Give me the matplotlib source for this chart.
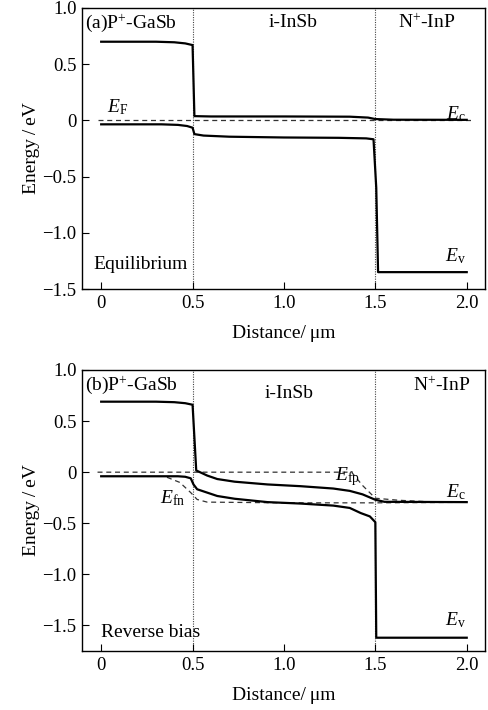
import matplotlib
matplotlib.use("Agg")
import matplotlib.pyplot as plt

plt.rcParams['font.family'] = ['Liberation Serif', 'DejaVu Serif']
plt.rcParams['mathtext.fontset'] = 'custom'
plt.rcParams['mathtext.rm'] = 'Liberation Serif'
plt.rcParams['mathtext.it'] = 'Liberation Serif:italic'
plt.rcParams['font.size'] = 13

# ---------------- Panel (a): equilibrium ----------------
a_ec_x = [0.0, 0.30, 0.40, 0.46, 0.50, 0.51, 0.60, 1.00, 1.36, 1.46, 1.50, 1.60, 2.0]
a_ec_y = [0.70, 0.70, 0.695, 0.685, 0.67, 0.038, 0.035, 0.035, 0.033, 0.025, 0.012, 0.006, 0.005]

a_ev_x = [0.0, 0.33, 0.42, 0.47, 0.50, 0.51, 0.56, 0.70, 1.00, 1.30, 1.45, 1.49, 1.505, 1.515, 2.0]
a_ev_y = [-0.035, -0.035, -0.04, -0.05, -0.065, -0.122, -0.135, -0.145, -0.152, -0.155, -0.16, -0.168, -0.60, -1.35, -1.35]

a_ef_x = [-0.02, 2.03]
a_ef_y = [0.0, 0.0]

# ---------------- Panel (b): reverse bias ----------------
b_ec_x = [0.0, 0.30, 0.40, 0.46, 0.50, 0.52, 0.58, 0.635, 0.73, 0.91, 1.09, 1.27, 1.36, 1.43, 1.50, 1.55, 2.0]
b_ec_y = [0.69, 0.69, 0.685, 0.675, 0.66, 0.017, -0.033, -0.067, -0.093, -0.12, -0.137, -0.16, -0.183, -0.217, -0.27, -0.29, -0.293]

b_ev_x = [0.0, 0.42, 0.46, 0.49, 0.505, 0.525, 0.58, 0.635, 0.73, 0.91, 1.09, 1.27, 1.36, 1.42, 1.47, 1.495, 1.50, 1.505, 2.0]
b_ev_y = [-0.04, -0.04, -0.045, -0.06, -0.12, -0.167, -0.20, -0.233, -0.26, -0.293, -0.307, -0.327, -0.35, -0.40, -0.433, -0.48, -0.49, -1.62, -1.62]

b_efp_x = [-0.02, 1.37, 1.43, 1.50, 1.63, 1.80, 2.0]
b_efp_y = [0.0, 0.0, -0.13, -0.255, -0.275, -0.29, -0.29]

b_efn_x = [0.36, 0.43, 0.49, 0.525, 0.58, 1.00, 1.50, 2.0]
b_efn_y = [-0.05, -0.10, -0.20, -0.267, -0.293, -0.30, -0.30, -0.295]

boundaries = [0.5, 1.5]
x_ticks = [0, 0.5, 1.0, 1.5, 2.0]
x_ticklabels = ['0', '0.5', '1.0', '1.5', '2.0']
a_yticks = [1.0, 0.5, 0.0, -0.5, -1.0, -1.5]
a_yticklabels = ['1.0', '0.5', '0', '\u22120.5', '\u22121.0', '\u22121.5']
b_yticks = [1.0, 0.5, 0.0, -0.5, -1.0, -1.5]
b_yticklabels = ['1.0', '0.5', '0', '\u22120.5', '\u22121.0', '\u22121.5']

fig = plt.figure(figsize=(4.88, 7.10), dpi=100)
L, W, H = 82/488, 403/488, 281/710
axA = fig.add_axes([L, 1 - 289/710, W, H])
axB = fig.add_axes([L, 1 - 651/710, W, H])

def style(ax, ylim, yticks, ylabels):
    ax.set_xlim(-0.105, 2.1)
    ax.set_ylim(*ylim)
    ax.set_xticks(x_ticks)
    ax.set_xticklabels(x_ticklabels)
    ax.set_yticks(yticks)
    ax.set_yticklabels(ylabels)
    ax.tick_params(direction='in', length=5, width=0.8, labelsize=13.5, pad=4)
    for s in ax.spines.values():
        s.set_linewidth(1.0)
    ax.set_xlabel('Distance/\u2009\u03bcm', fontsize=14, labelpad=10)
    ax.set_ylabel('Energy\u2009/\u2009eV', fontsize=14, labelpad=2)
    for b in boundaries:
        ax.axvline(b, color='#444444', lw=0.8, ls=(0, (1, 1.2)), zorder=1)

style(axA, (-1.5, 1.0), a_yticks, a_yticklabels)
style(axB, (-1.75, 1.0), b_yticks, b_yticklabels)

solid = dict(color='black', lw=1.6, zorder=3)
dash = dict(color='#333333', lw=0.9, ls=(0, (4, 3)), zorder=2)

axA.plot(a_ec_x, a_ec_y, **solid)
axA.plot(a_ev_x, a_ev_y, **solid)
axA.plot(a_ef_x, a_ef_y, **dash)

axB.plot(b_ec_x, b_ec_y, **solid)
axB.plot(b_ev_x, b_ev_y, **solid)
axB.plot(b_efp_x, b_efp_y, **dash)
axB.plot(b_efn_x, b_efn_y, **dash)

fs = 14
axA.text(-0.09, 0.87, '(a)P$^{+}$-GaSb', fontsize=fs, ha='left', va='center')
axA.text(1.05, 0.87, 'i-InSb', fontsize=fs, ha='center', va='center')
axA.text(1.78, 0.87, 'N$^{+}$-InP', fontsize=fs, ha='center', va='center')
axA.text(0.09, 0.12, '$E_{\\mathrm{F}}$', fontsize=fs, ha='center', va='center')
axA.text(1.94, 0.06, '$E_{\\mathrm{c}}$', fontsize=fs, ha='center', va='center')
axA.text(1.94, -1.21, '$E_{\\mathrm{v}}$', fontsize=fs, ha='center', va='center')
axA.text(-0.04, -1.28, 'Equilibrium', fontsize=fs, ha='left', va='center')

axB.text(-0.09, 0.85, '(b)P$^{+}$-GaSb', fontsize=fs, ha='left', va='center')
axB.text(1.03, 0.77, 'i-InSb', fontsize=fs, ha='center', va='center')
axB.text(1.86, 0.85, 'N$^{+}$-InP', fontsize=fs, ha='center', va='center')
axB.text(1.35, -0.04, '$E_{\\mathrm{fp}}$', fontsize=fs, ha='center', va='center')
axB.text(0.39, -0.25, '$E_{\\mathrm{fn}}$', fontsize=fs, ha='center', va='center')
axB.text(1.94, -0.20, '$E_{\\mathrm{c}}$', fontsize=fs, ha='center', va='center')
axB.text(1.94, -1.45, '$E_{\\mathrm{v}}$', fontsize=fs, ha='center', va='center')
axB.text(0.0, -1.57, 'Reverse bias', fontsize=fs, ha='left', va='center')

fig.savefig('out.png', dpi=100)
